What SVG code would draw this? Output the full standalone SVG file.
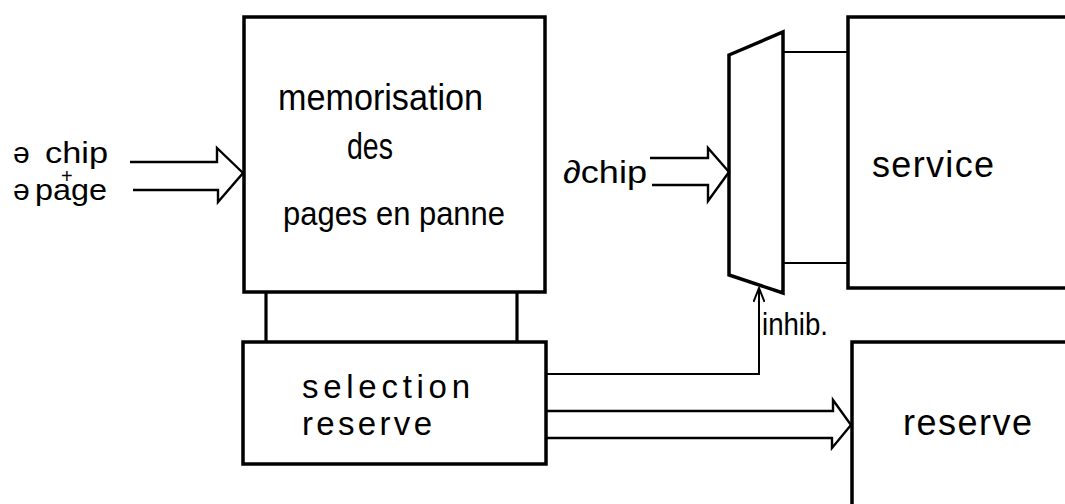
<svg xmlns="http://www.w3.org/2000/svg" width="1065" height="504" viewBox="0 0 1065 504">
  <style>
    .box { fill: none; stroke: #000; stroke-width: 3.5; stroke-linejoin: miter; }
    .leg { stroke: #000; stroke-width: 3.2; fill: none; }
    .wire { stroke: #000; stroke-width: 2.4; fill: none; stroke-linejoin: miter; }
    .thin { stroke: #000; stroke-width: 2; fill: none; }
    .lbl { font-family: "Liberation Sans", "DejaVu Sans", sans-serif; fill: #000; }
  </style>
  <defs>
    <marker id="openArrow" viewBox="0 0 16 12" refX="15" refY="6" markerWidth="16" markerHeight="12" markerUnits="userSpaceOnUse" orient="auto">
      <path d="M1,0.5 L15,6 L1,11.5" fill="none" stroke="#000" stroke-width="2"/>
    </marker>
  </defs>
  <rect width="1065" height="504" fill="#fff"/>

  <g id="connectors">
    <line class="leg" x1="266" y1="292" x2="266" y2="342"/>
    <line class="leg" x1="517" y1="292" x2="517" y2="342"/>
    <path class="wire" d="M130,162 H217 V148 L243,173 L218,202 V190 H133"/>
    <path class="wire" d="M650,158 H708 V148 L729,172 L708,201 V185 H652"/>
    <path class="wire" d="M546,411 H833 V400 L851,425 L832,448 V438 H546"/>
    <line class="thin" x1="783" y1="52" x2="848" y2="52"/>
    <line class="thin" x1="783" y1="263" x2="848" y2="263"/>
    <path class="thin" d="M546,374 H759 V288" marker-end="url(#openArrow)"/>
  </g>

  <g id="addr-in">
    <text class="lbl" font-size="30"><tspan x="13" y="163">ə</tspan><tspan x="45" y="163" textLength="63" lengthAdjust="spacingAndGlyphs">chip</tspan><tspan x="61" y="183" font-size="20">+</tspan><tspan x="13" y="200">ə</tspan><tspan x="35" y="200" textLength="72" lengthAdjust="spacingAndGlyphs">page</tspan></text>
  </g>

  <g id="memorisation">
    <rect class="box" x="244" y="17" width="301" height="275"/>
    <text class="lbl" x="278" y="110" font-size="36" textLength="205" lengthAdjust="spacingAndGlyphs">memorisation</text>
    <text class="lbl" x="347" y="159" font-size="36" textLength="46" lengthAdjust="spacingAndGlyphs">des</text>
    <text class="lbl" x="283" y="225" font-size="34" textLength="222" lengthAdjust="spacingAndGlyphs">pages en panne</text>
  </g>

  <g id="selection">
    <rect class="box" x="243" y="342" width="303" height="122"/>
    <text class="lbl" x="302" y="398" font-size="33" textLength="168" lengthAdjust="spacing">selection</text>
    <text class="lbl" x="302" y="435" font-size="33" textLength="130" lengthAdjust="spacing">reserve</text>
  </g>

  <g id="addr-chip">
    <text class="lbl" x="563" y="183" font-size="32" textLength="84" lengthAdjust="spacingAndGlyphs">∂chip</text>
  </g>

  <g id="multiplexer">
    <polygon class="box" points="729,55 783,32 783,293 729,275"/>
  </g>

  <g id="inhib-label">
    <text class="lbl" x="762" y="335" font-size="31" textLength="66" lengthAdjust="spacingAndGlyphs">inhib.</text>
  </g>

  <g id="service">
    <rect class="box" x="848" y="17" width="240" height="271"/>
    <text class="lbl" x="872" y="177" font-size="36" textLength="122" lengthAdjust="spacing">service</text>
  </g>

  <g id="reserve">
    <rect class="box" x="852" y="342" width="240" height="200"/>
    <text class="lbl" x="903" y="435" font-size="36" textLength="129" lengthAdjust="spacing">reserve</text>
  </g>
</svg>
